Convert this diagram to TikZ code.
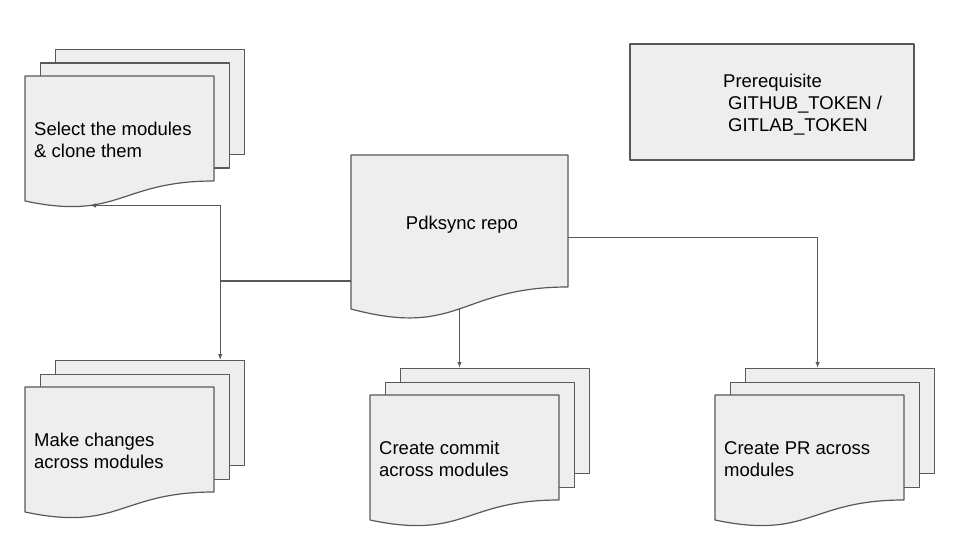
\documentclass[tikz,border=0pt]{standalone}
\usepackage{fontspec}
\setmainfont{Liberation Sans}
\usetikzlibrary{arrows.meta,calc}
\definecolor{sheetfill}{HTML}{EEEEEE}
\definecolor{sheetink}{HTML}{595959}

\tikzset{
  sheet/.style={draw=sheetink,fill=sheetfill,line width=1.2pt,line join=round},
  sheetbox/.style={sheet,anchor=north west,inner sep=0pt,
    minimum width=189pt,minimum height=105pt},
  doctext/.style={anchor=north west,inner sep=0pt,align=left,
    font=\fontsize{18.5}{22}\selectfont},
  link/.style={draw=sheetink,line width=1.2pt,-{Latex[length=6pt,width=4.5pt]}}
}

% stack of three sheets: name, front x, back top y, text
\newcommand{\docstack}[4]{%
  \begin{scope}[shift={(#2,#3)}]
    \node[sheetbox] (#1-back) at (30,0) {};
    \node[sheetbox] (#1-mid) at (15,13.5) {};
    \filldraw[sheet] (0,27) -- (189,27) -- (189,132)
      .. controls (94.5,132) and (94.5,172) .. (0,152) -- cycle;
    \coordinate (#1-foot) at (65,156.5);
    \node[doctext] (#1) at (9,70.6) {\strut #4};
  \end{scope}}

\begin{document}
\begin{tikzpicture}[x=1pt,y=-1pt]
    \useasboundingbox (0,0) rectangle (960,540);

    % the four stacks
    \docstack{sel}{25}{49}{Select the modules\\\& clone them}
    \docstack{mk}{25}{360}{Make changes\\across modules}
    \docstack{cm}{370}{368}{Create commit\\across modules}
    \docstack{pr}{715}{368}{Create PR across\\modules}

    % repo document
    \node[inner sep=0pt,minimum width=217pt,minimum height=165pt]
      (repo) at (459.5,237.5) {};
    \filldraw[sheet] (351,155) -- (568,155) -- (568,287)
      .. controls (459.5,287) and (459.5,338) .. (351,309) -- cycle;
    \coordinate (repo-foot) at (459.5,309);
    \node[doctext,anchor=base] (repo-txt) at (462,229) {Pdksync repo};

    % prerequisite
    \node[sheet,inner sep=0pt,minimum width=284pt,minimum height=116pt]
      (prereq) at (772,102) {};
    \node[doctext] (prereq-txt) at (723,71.6)
      {\strut Prerequisite\\\hspace*{5pt}GITHUB\_TOKEN /\\\hspace*{5pt}GITLAB\_TOKEN};

    % connectors
    \draw[link] ($(repo.west)+(0,43.5)$) -| coordinate[pos=.5] (fork)
      ($(mk-back.north east)+(-25,0)$);
    \draw[link] (fork) |- (sel-foot);
    \draw[link] (repo.east) -| ($(pr-back.north)+(-22.5,0)$);
    \draw[link] (repo-foot) -- (repo-foot |- cm-back.north);
\end{tikzpicture}
\end{document}
